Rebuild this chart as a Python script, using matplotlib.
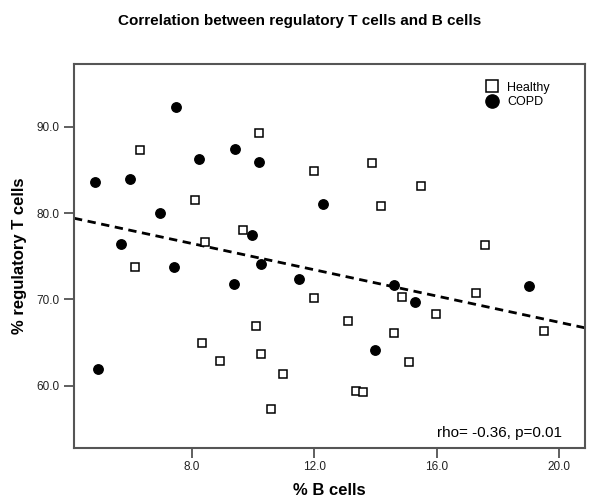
import matplotlib
matplotlib.use("Agg")
import matplotlib.pyplot as plt
import numpy as np

plt.rcParams['font.family'] = ['Liberation Sans', 'DejaVu Sans']

healthy_x = [6.31, 10.20, 11.99, 8.12, 9.67, 8.43, 6.14, 13.89, 15.49, 14.19, 17.59,
             11.99, 10.09, 8.34, 10.27, 8.92, 10.99, 10.58, 14.88, 17.28, 15.98, 19.50,
             13.10, 14.59, 15.09, 13.38, 13.60]
healthy_y = [87.3, 89.3, 84.9, 81.5, 78.0, 76.7, 73.7, 85.8, 83.1, 80.8, 76.3,
             70.2, 66.9, 65.0, 63.7, 62.9, 61.4, 57.3, 70.3, 70.8, 68.3, 66.4,
             67.5, 66.1, 62.7, 59.4, 59.3]
copd_x = [7.48, 9.41, 8.23, 10.20, 4.84, 6.00, 12.28, 6.97, 9.97, 5.68, 7.43,
          10.28, 11.50, 9.37, 4.93, 14.59, 15.30, 19.00, 13.99]
copd_y = [92.3, 87.4, 86.3, 85.9, 83.6, 84.0, 81.1, 80.0, 77.5, 76.4, 73.8,
          74.1, 72.4, 71.8, 61.9, 71.7, 69.7, 71.5, 64.1]
fit_intercept = 82.57
fit_slope = -0.761
x_ticks = [8.0, 12.0, 16.0, 20.0]
y_ticks = [60.0, 70.0, 80.0, 90.0]

fig = plt.figure(figsize=(6.0, 5.01), dpi=100)
ax = fig.add_axes([74/600, 1-448/501, (585-74)/600, (448-64)/501])

xlim = (4.16, 20.84)
ylim = (52.8, 97.26)
xs = np.array(xlim)
ax.plot(xs, fit_intercept + fit_slope*xs, ls=(0, (3, 2)), color='black', lw=2, zorder=2)

ax.plot(healthy_x, healthy_y, 's', ms=6, mfc='white', mec='black', mew=1.1,
        ls='none', label='Healthy', zorder=3)
ax.plot(copd_x, copd_y, 'o', ms=6.8, mfc='black', mec='black', ls='none',
        label='COPD', zorder=3)

ax.set_xlim(*xlim)
ax.set_ylim(*ylim)
ax.set_xticks(x_ticks)
ax.set_xticklabels([f"{t:.1f}" for t in x_ticks])
ax.set_yticks(y_ticks)
ax.set_yticklabels([f"{t:.1f}" for t in y_ticks])
ax.tick_params(direction='out', length=7, width=1.2, colors='#444444',
               labelsize=8.5, labelcolor='#222222')
ax.tick_params(axis='x', pad=2.5)
for s in ax.spines.values():
    s.set_color('#555555')
    s.set_linewidth(1.5)

ax.set_xlabel('% B cells', fontsize=12, fontweight='bold', labelpad=7)
ax.set_ylabel('% regulatory T cells', fontsize=12, fontweight='bold', labelpad=7)
fig.suptitle('Correlation between regulatory T cells and B cells', fontsize=11,
             fontweight='bold', y=1-21/501, va='center')

ax.legend(loc='upper left', bbox_to_anchor=(0.806, 0.954), frameon=False, fontsize=9,
          handletextpad=0.7, borderpad=0, borderaxespad=0, labelspacing=0.2,
          handlelength=1.0, markerscale=1.4)
ax.text(0.955, 0.039, 'rho= -0.36, p=0.01', transform=ax.transAxes, ha='right',
        va='center', fontsize=11)

fig.savefig('out.png', dpi=100)
